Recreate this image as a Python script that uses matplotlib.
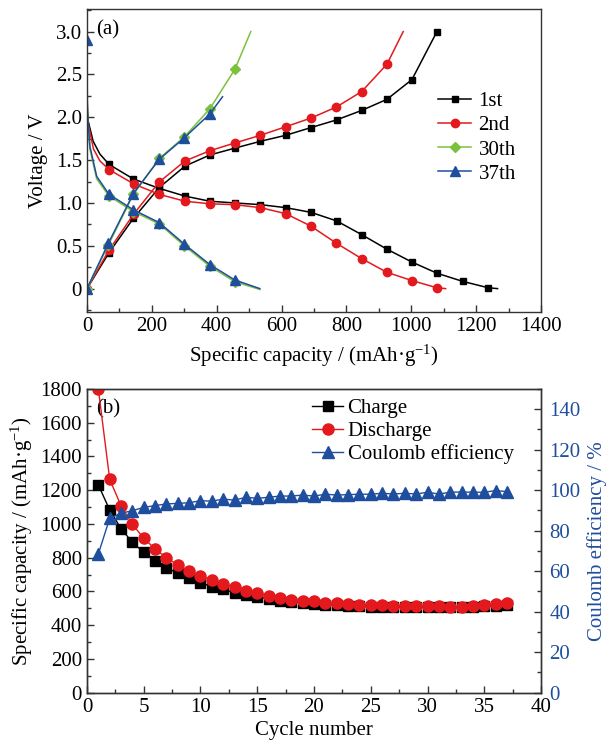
import matplotlib
matplotlib.use("Agg")
import matplotlib.pyplot as plt
from matplotlib.ticker import MultipleLocator, FuncFormatter

plt.rcParams['font.family'] = ['Liberation Serif', 'DejaVu Serif']
plt.rcParams['mathtext.fontset'] = 'custom'
plt.rcParams['mathtext.rm'] = 'Liberation Serif'
plt.rcParams['mathtext.it'] = 'Liberation Serif:italic'
plt.rcParams['font.size'] = 15
plt.rcParams['axes.unicode_minus'] = False

BLACK = '#000000'
RED = '#e3191d'
GREEN = '#7cc13c'
BLUE = '#1f4e9e'

# ---------------- panel (a) data ----------------
cap_1st_dis = [0, 4, 19, 40, 68, 143, 223, 302, 379, 456, 535, 613, 691, 770, 847, 925, 1002, 1079, 1158, 1237, 1266]
v_1st_dis = [2.05, 1.95, 1.72, 1.57, 1.45, 1.28, 1.17, 1.08, 1.02, 1.00, 0.98, 0.945, 0.89, 0.79, 0.63, 0.46, 0.31, 0.18, 0.085, 0.01, 0.0]
cap_1st_chg = [0, 68, 143, 223, 302, 379, 456, 535, 613, 691, 770, 847, 925, 1002, 1079]
v_1st_chg = [0.0, 0.42, 0.82, 1.18, 1.43, 1.56, 1.64, 1.72, 1.79, 1.88, 1.97, 2.08, 2.21, 2.44, 3.0]

cap_2nd_dis = [0, 5, 20, 40, 68, 145, 223, 302, 379, 456, 535, 613, 690, 769, 847, 925, 1002, 1079, 1106]
v_2nd_dis = [2.12, 1.90, 1.63, 1.49, 1.39, 1.22, 1.10, 1.02, 0.99, 0.98, 0.945, 0.875, 0.73, 0.53, 0.35, 0.19, 0.094, 0.01, 0.0]
cap_2nd_chg = [0, 68, 145, 223, 302, 379, 456, 535, 613, 690, 769, 847, 925, 975]
v_2nd_chg = [0.0, 0.45, 0.875, 1.245, 1.49, 1.61, 1.70, 1.79, 1.89, 1.99, 2.12, 2.30, 2.62, 3.0]

cap_30th_dis = [0, 3, 9, 30, 68, 143, 223, 300, 379, 456, 533]
v_30th_dis = [2.25, 1.95, 1.63, 1.28, 1.08, 0.90, 0.755, 0.50, 0.26, 0.08, -0.01]
cap_30th_chg = [0, 66, 143, 223, 300, 379, 456, 505]
v_30th_chg = [0.0, 0.51, 1.10, 1.52, 1.77, 2.10, 2.56, 3.0]

cap_37th_dis = [0, 1, 3, 9, 30, 68, 143, 223, 300, 379, 456, 533]
v_37th_dis = [2.9, 2.2, 1.97, 1.66, 1.31, 1.10, 0.92, 0.77, 0.52, 0.28, 0.10, 0.0]
cap_37th_chg = [0, 66, 143, 223, 300, 379, 418]
v_37th_chg = [0.0, 0.53, 1.11, 1.51, 1.76, 2.04, 2.24]

# ---------------- panel (b) data ----------------
cycles = list(range(1, 38))
charge = [1231, 1083, 972, 891, 832, 781, 741, 708, 678, 652, 628, 613, 593, 579, 567, 557, 544,
          537, 533, 527, 522, 518, 514, 512, 510, 508, 508, 507, 506, 506, 505, 505, 506, 508,
          512, 516, 520]
discharge = [1800, 1265, 1107, 998, 915, 852, 800, 757, 721, 692, 668, 642, 625, 603, 589, 575,
             560, 550, 545, 542, 534, 534, 528, 520, 520, 518, 516, 514, 512, 514, 512, 510, 510,
             514, 520, 526, 530]
coulomb = [68.5, 86.1, 88.6, 89.9, 91.5, 92.4, 93.2, 93.5, 93.8, 94.8, 94.6, 95.6, 95.1, 96.5,
           96.0, 96.5, 97.1, 97.1, 97.6, 97.1, 98.0, 97.6, 97.8, 98.0, 98.0, 98.5, 98.1, 98.5,
           98.1, 99.0, 98.1, 99.0, 99.1, 99.0, 99.0, 99.8, 99.3]

fig = plt.figure(figsize=(6.10, 7.49), dpi=100)
axA = fig.add_axes([0.1426, 0.5838, 0.7443, 0.4037])
axB = fig.add_axes([0.1426, 0.0752, 0.7443, 0.4055])

SPINE = '#333333'

def style_axes(ax):
    for s in ax.spines.values():
        s.set_color(SPINE)
        s.set_linewidth(1.0)
    ax.tick_params(which='both', direction='in', colors=SPINE, labelcolor='black')
    ax.tick_params(which='major', length=5, width=1)
    ax.tick_params(which='minor', length=3, width=1)

# ---- panel (a) ----
series = [
    ('1st', BLACK, 's', 4.5, cap_1st_dis, v_1st_dis, list(range(4, 20)), cap_1st_chg, v_1st_chg, list(range(0, 15))),
    ('2nd', RED, 'o', 6.0, cap_2nd_dis, v_2nd_dis, list(range(4, 18)), cap_2nd_chg, v_2nd_chg, list(range(0, 13))),
    ('30th', GREEN, 'D', 5.0, cap_30th_dis, v_30th_dis, list(range(4, 10)), cap_30th_chg, v_30th_chg, list(range(0, 7))),
    ('37th', BLUE, '^', 6.5, cap_37th_dis, v_37th_dis, [0] + list(range(5, 11)), cap_37th_chg, v_37th_chg, list(range(0, 6))),
]
handles = []
for name, col, mk, ms, cd, vd, md, cc, vc, mc in series:
    h, = axA.plot(cd, vd, color=col, lw=1.1, marker=mk, ms=ms, markevery=md, label=name)
    axA.plot(cc, vc, color=col, lw=1.1, marker=mk, ms=ms, markevery=mc)
    handles.append(h)

axA.set_xlim(0, 1400)
axA.set_ylim(-0.27, 3.26)
axA.xaxis.set_major_locator(MultipleLocator(200))
axA.xaxis.set_minor_locator(MultipleLocator(100))
axA.yaxis.set_major_locator(MultipleLocator(0.5))
axA.yaxis.set_minor_locator(MultipleLocator(0.25))
axA.yaxis.set_major_formatter(FuncFormatter(lambda v, p: '0' if abs(v) < 1e-9 else f'{v:.1f}'))
style_axes(axA)
axA.set_xlabel('Specific capacity / (mAh·g$^{-1}$)', labelpad=5)
axA.set_ylabel('Voltage / V', labelpad=6)
axA.text(0.02, 0.965, '(a)', transform=axA.transAxes, ha='left', va='top', fontsize=15)
axA.legend(handles=handles, loc='upper left', bbox_to_anchor=(0.773, 0.728), frameon=False,
           borderpad=0, borderaxespad=0, handlelength=1.6, handletextpad=0.35,
           labelspacing=0.22, fontsize=15)

# ---- panel (b) ----
hc, = axB.plot(cycles, charge, color=BLACK, lw=1.0, marker='s', ms=7, label='Charge', zorder=3)
hd, = axB.plot(cycles, discharge, color=RED, lw=1.0, marker='o', ms=8, label='Discharge', zorder=4)
axB.set_xlim(0, 40)
axB.set_ylim(0, 1800)
axB.xaxis.set_major_locator(MultipleLocator(5))
axB.xaxis.set_minor_locator(MultipleLocator(2.5))
axB.yaxis.set_major_locator(MultipleLocator(200))
axB.yaxis.set_minor_locator(MultipleLocator(100))
style_axes(axB)
axB.set_xlabel('Cycle number', labelpad=3)
axB.set_ylabel('Specific capacity / (mAh·g$^{-1}$)', labelpad=4)
axB.text(0.02, 0.965, '(b)', transform=axB.transAxes, ha='left', va='top', fontsize=15)

axR = axB.twinx()
he, = axR.plot(cycles, coulomb, color=BLUE, lw=1.0, marker='^', ms=8, label='Coulomb efficiency')
axR.set_ylim(0, 150)
axR.yaxis.set_major_locator(MultipleLocator(20))
axR.yaxis.set_minor_locator(MultipleLocator(10))
style_axes(axR)
axR.tick_params(axis='y', labelcolor=BLUE, pad=6)
axR.set_ylabel('Coulomb efficiency / %', color=BLUE, labelpad=5)
axR.legend(handles=[hc, hd, he], loc='upper left', bbox_to_anchor=(0.496, 0.968), frameon=False,
           borderpad=0, borderaxespad=0, handlelength=1.5, handletextpad=0.2,
           labelspacing=0.15, fontsize=15)

fig.savefig('out.png', dpi=100)
